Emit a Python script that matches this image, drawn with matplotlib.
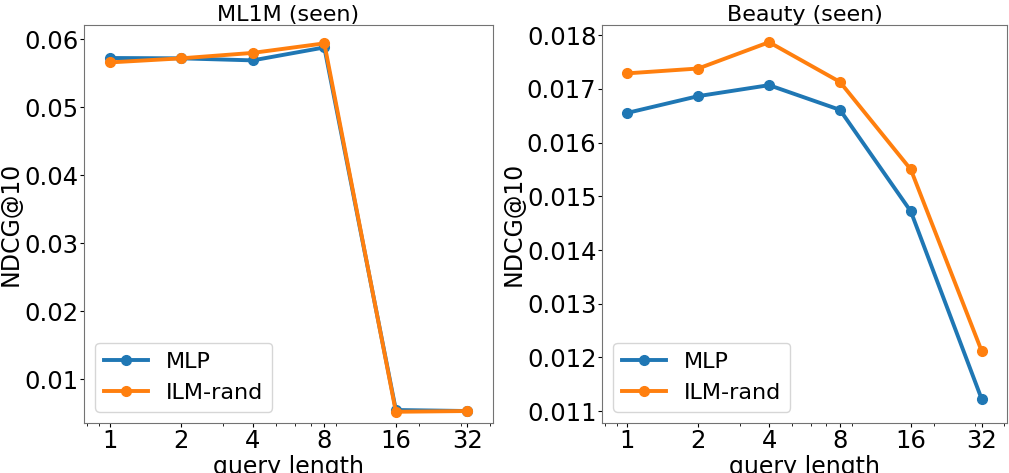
import matplotlib
matplotlib.use("Agg")
import matplotlib.pyplot as plt
from matplotlib.ticker import NullFormatter

# query lengths (log x axis)
query_len = [1, 2, 4, 8, 16, 32]

# ML1M (seen)
ml1m_mlp = [0.05725, 0.0572, 0.0569, 0.0588, 0.00551, 0.00536]
ml1m_ilm = [0.0566, 0.0572, 0.0580, 0.0594, 0.00525, 0.00536]

# Beauty (seen)
beauty_mlp = [0.016554, 0.016866, 0.01707, 0.01661, 0.01472, 0.011226]
beauty_ilm = [0.01729, 0.01738, 0.01787, 0.01713, 0.0155, 0.01212]

titles = ["ML1M (seen)", "Beauty (seen)"]
ml1m_ticks = [0.01, 0.02, 0.03, 0.04, 0.05, 0.06]
beauty_ticks = [0.011, 0.012, 0.013, 0.014, 0.015, 0.016, 0.017, 0.018]

fig = plt.figure(figsize=(10.09, 4.73), dpi=100)
ax1 = fig.add_axes([84 / 1009, 1 - 423 / 473, 409 / 1009, 398 / 473])
ax2 = fig.add_axes([602 / 1009, 1 - 423 / 473, 405 / 1009, 398 / 473])

datasets = [(ax1, ml1m_mlp, ml1m_ilm, ml1m_ticks, "%.2f"),
            (ax2, beauty_mlp, beauty_ilm, beauty_ticks, "%.3f")]

for i, (ax, mlp, ilm, yt, fmt) in enumerate(datasets):
    ax.plot(query_len, mlp, marker="o", color="#1f77b4", lw=2.8, ms=7, label="MLP")
    ax.plot(query_len, ilm, marker="o", color="#ff7f0e", lw=2.8, ms=7, label="ILM-rand")
    ax.set_xscale("log")
    ax.set_xticks(query_len)
    ax.set_xticklabels([str(q) for q in query_len])
    ax.xaxis.set_minor_formatter(NullFormatter())
    ax.set_yticks(yt)
    ax.set_yticklabels([fmt % v for v in yt])
    ax.tick_params(axis="both", labelsize=17.5, length=3)
    ax.tick_params(axis="x", pad=1)
    ax.tick_params(axis="y", pad=1)
    ax.set_xlabel("query length", fontsize=17, labelpad=2)
    ax.set_ylabel("NDCG@10", fontsize=17, labelpad=1)
    ax.set_title(titles[i], fontsize=16, pad=3)
    for s in ax.spines.values():
        s.set_color("0.45")
    ax.legend(loc="lower left", fontsize=16)

ax1.set_xlim(0.78, 41)
ax1.set_ylim(0.0036, 0.0621)
ax2.set_xlim(0.78, 41)
ax2.set_ylim(0.01078, 0.01819)

fig.savefig("out.png", dpi=100)
